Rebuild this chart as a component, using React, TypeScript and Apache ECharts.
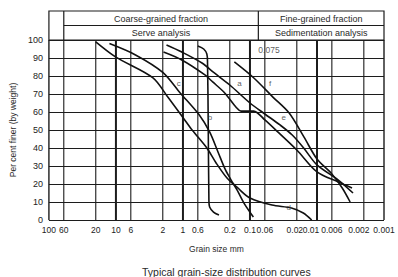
import React, { useEffect, useRef } from 'react';
import * as echarts from 'echarts';

// Vertical grid lines (grain size, mm) and their tick labels
const gridValues = [100, 60, 20, 10, 6, 2, 1, 0.6, 0.2, 0.1, 0.06, 0.02, 0.01, 0.006, 0.002, 0.001];
const gridLabels = ['100', '60', '20', '10', '6', '2', '1', '0.6', '0.2', '0.1', '0.06', '0.02', '0.01', '0.006', '0.002', '0.001'];
const majorValues = [10, 1, 0.1, 0.01];

// Curves: grain size (mm) and per cent finer
const curveA_d = [1.76, 1.04, 0.52, 0.34, 0.2, 0.1, 0.06, 0.0356, 0.0234, 0.0158, 0.01, 0.0048, 0.0029];
const curveA_p = [97.2, 93.3, 87.2, 81.7, 75, 65, 58.9, 52.8, 47.2, 40, 30.6, 22.2, 15];

const curveB_d = [0.6, 0.49, 0.44, 0.43, 0.42, 0.41, 0.4, 0.35, 0.29];
const curveB_p = [96.7, 95, 92.2, 87.8, 55.6, 11, 7.2, 4.4, 2.8];

const curveC_d = [12.5, 5.1, 2.0, 1.1, 0.57, 0.4, 0.3, 0.232, 0.191, 0.156, 0.123, 0.089];
const curveC_p = [98, 91.7, 82, 70.6, 58.3, 48.9, 37.8, 27.8, 22.2, 16.7, 9.4, 1.7];

const curveD_d = [20, 10, 2.8, 1.66, 1.0, 0.73, 0.44, 0.32, 0.22, 0.152, 0.1, 0.047, 0.024, 0.016, 0.012];
const curveD_p = [99, 90.5, 79, 68, 57, 50, 40, 31.7, 23.3, 17.8, 12.2, 8.3, 6.7, 3.9, 0];

const curveE_d = [1.95, 1.04, 0.47, 0.36, 0.238, 0.16, 0.136, 0.088, 0.06, 0.0396, 0.02, 0.01, 0.0048, 0.003];
const curveE_p = [93.3, 88.9, 80.6, 76.7, 70.6, 62.5, 60.5, 60.5, 55.6, 49.4, 38.9, 26.7, 21.1, 17.8];

const curveF_d = [0.171, 0.0875, 0.0455, 0.026, 0.0156, 0.01, 0.006, 0.0042, 0.0032];
const curveF_p = [87.8, 78.9, 68.3, 59.4, 46, 33.9, 25.6, 17.8, 10];

// Curve letters placed on the chart
const labelNames = ['a', 'b', 'c', 'd', 'e', 'f'];
const labelD = [0.143, 0.394, 1.16, 0.0264, 0.0313, 0.0502];
const labelP = [76, 57, 76, 7.2, 56.7, 76];

const boundaryValue = 0.075;
const boundaryLabel = '0.075';

const FONT = 'Liberation Sans, Arial, sans-serif';
const INK = '#1c1c1c';

// small leftward nudges (px) of crowded tick labels, as in the print
const LABEL_NUDGE: Record<string, number> = { '0.02': -2, '0.01': -6, '0.002': -5 };

function zip(d: number[], p: number[]) {
  return d.map((v, i) => [v, p[i]]);
}

export default function App() {
  const ref = useRef<HTMLDivElement>(null);
  useEffect(() => {
    document.body.style.margin = '0';
    if (!ref.current) return;
    const chart = echarts.init(ref.current, undefined, { renderer: 'svg' });

    const curves = [
      zip(curveA_d, curveA_p),
      zip(curveB_d, curveB_p),
      zip(curveC_d, curveC_p),
      zip(curveD_d, curveD_p),
      zip(curveE_d, curveE_p),
      zip(curveF_d, curveF_p),
    ];

    chart.setOption({
      animation: false,
      backgroundColor: '#ffffff',
      textStyle: { fontFamily: FONT },
      title: {
        text: 'Typical grain-size distribution curves',
        left: 137,
        top: 261,
        textStyle: { fontSize: 10.5, fontWeight: 'normal', color: '#2a2a2a', fontFamily: FONT },
      },
      grid: { left: 43, right: 14, top: 40, bottom: 57 },
      xAxis: {
        type: 'log',
        logBase: 10,
        min: 0.001,
        max: 100,
        inverse: true,
        axisLine: { show: false },
        axisTick: { show: false },
        axisLabel: { show: false },
        splitLine: { show: false },
        name: 'Grain size mm',
        nameLocation: 'middle',
        nameGap: 24,
        nameTextStyle: { fontSize: 8.5, color: '#2a2a2a', fontFamily: FONT },
      },
      yAxis: {
        type: 'value',
        min: 0,
        max: 100,
        interval: 10,
        axisLine: { show: false },
        axisTick: { show: false },
        axisLabel: { fontSize: 9, color: '#222', margin: 6, fontFamily: FONT },
        splitLine: { show: true, lineStyle: { color: INK, width: 1.2 } },
        name: 'Per cent finer (by weight)',
        nameLocation: 'middle',
        nameGap: 30,
        nameTextStyle: { fontSize: 8.5, color: '#2a2a2a', fontFamily: FONT },
      },
      series: [
        {
          type: 'custom',
          z: 1,
          silent: true,
          clip: false,
          encode: { x: 0, y: 1 },
          data: gridValues.map((v, i) => [v, i]),
          renderItem: (params: any, api: any) => {
            const i = params.dataIndex;
            const v = gridValues[i];
            const top = api.coord([v, 100]);
            const bot = api.coord([v, 0]);
            const major = majorValues.indexOf(v) >= 0;
            const border = i === 0 || i === gridValues.length - 1;
            const w = major ? 2 : border ? 1.4 : 1.1;
            const nudge = LABEL_NUDGE[gridLabels[i]] || 0;
            return {
              type: 'group',
              children: [
                {
                  type: 'line',
                  shape: { x1: bot[0], y1: bot[1], x2: top[0], y2: top[1] },
                  style: { stroke: INK, lineWidth: w },
                },
                {
                  type: 'text',
                  x: bot[0] + nudge,
                  y: bot[1] + 10,
                  style: {
                    text: gridLabels[i],
                    fill: '#222',
                    fontSize: 8.5,
                    fontFamily: FONT,
                    align: 'center',
                    verticalAlign: 'middle',
                  },
                },
              ],
            };
          },
        },
        ...curves.map((c) => ({
          type: 'line',
          data: c,
          z: 3,
          smooth: 0.3,
          showSymbol: false,
          symbol: 'none',
          lineStyle: { color: '#111', width: 1.6 },
          silent: true,
        })),
        {
          type: 'scatter',
          z: 4,
          symbolSize: 0,
          silent: true,
          data: labelNames.map((n, i) => ({ name: n, value: [labelD[i], labelP[i]] })),
          label: {
            show: true,
            position: 'inside',
            formatter: (p: any) => p.name,
            fontSize: 8,
            color: '#333',
            fontFamily: FONT,
          },
        },
        {
          type: 'scatter',
          z: 4,
          symbolSize: 0,
          silent: true,
          data: [{ name: boundaryLabel, value: [boundaryValue, 94.5] }],
          label: {
            show: true,
            position: 'right',
            distance: 0,
            formatter: (p: any) => p.name,
            fontSize: 8.5,
            color: '#333',
            fontFamily: FONT,
          },
        },
      ],
    });

    const xL = chart.convertToPixel({ xAxisIndex: 0 }, 100) as number;
    const xR = chart.convertToPixel({ xAxisIndex: 0 }, 0.001) as number;
    const x60 = chart.convertToPixel({ xAxisIndex: 0 }, 60) as number;
    const xB = chart.convertToPixel({ xAxisIndex: 0 }, boundaryValue) as number;
    const yTop = chart.convertToPixel({ yAxisIndex: 0 }, 100) as number;
    const hTop = 11;
    const hMid = 25.5;
    const lineSt = { stroke: INK, lineWidth: 1.2 };
    const txt = { fontSize: 9, fill: '#2a2a2a', fontFamily: FONT, align: 'center', verticalAlign: 'middle' };

    chart.setOption({
      graphic: [
        { type: 'rect', shape: { x: xL, y: hTop, width: xR - xL, height: yTop - hTop }, style: { fill: 'none', ...lineSt } },
        { type: 'line', shape: { x1: x60, y1: hTop, x2: x60, y2: yTop }, style: lineSt },
        { type: 'line', shape: { x1: x60, y1: hMid, x2: xR, y2: hMid }, style: lineSt },
        { type: 'line', shape: { x1: xB, y1: hTop, x2: xB, y2: yTop }, style: lineSt },
        { type: 'text', x: (x60 + xB) / 2, y: (hTop + hMid) / 2 + 0.5, style: { text: 'Coarse-grained fraction', ...txt } },
        { type: 'text', x: (xB + xR) / 2, y: (hTop + hMid) / 2 + 0.5, style: { text: 'Fine-grained fraction', ...txt } },
        { type: 'text', x: (x60 + xB) / 2, y: (hMid + yTop) / 2, style: { text: 'Serve analysis', ...txt } },
        { type: 'text', x: (xB + xR) / 2, y: (hMid + yTop) / 2, style: { text: 'Sedimentation analysis', ...txt } },
      ],
    });

    return () => chart.dispose();
  }, []);
  return <div ref={ref} style={{ width: 398, height: 277 }} />;
}
